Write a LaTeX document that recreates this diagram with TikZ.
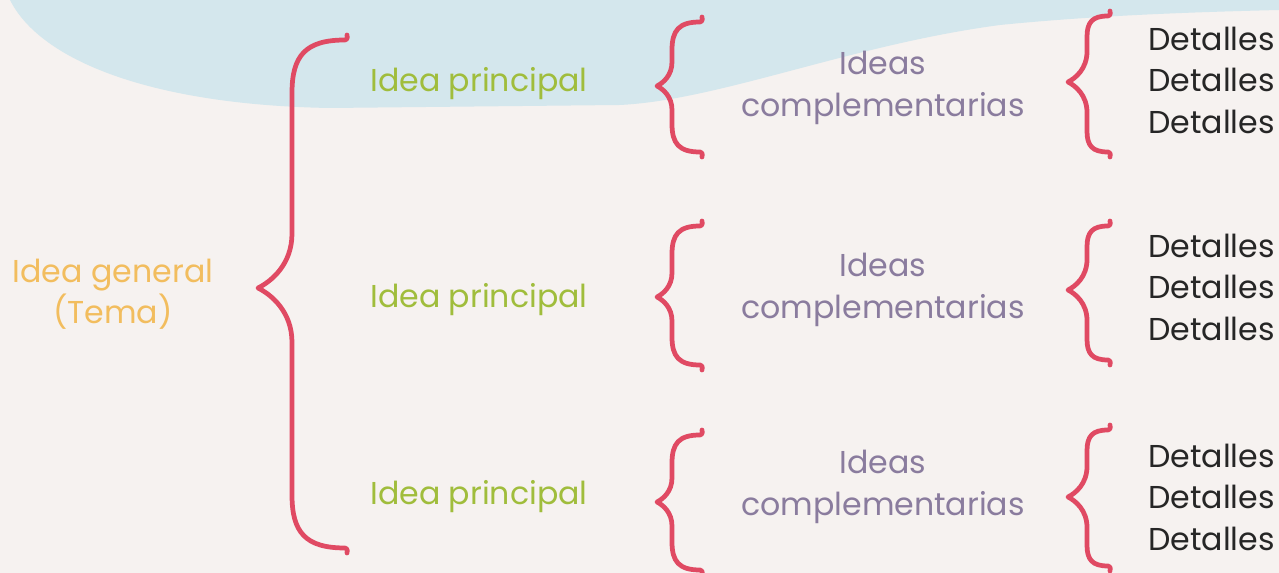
\documentclass[tikz,border=0pt]{standalone}
\usepackage{fontspec}
\setmainfont{Poppins}
\usetikzlibrary{positioning}
\definecolor{papel}{HTML}{F6F2F0}
\definecolor{cielo}{HTML}{D4E7ED}
\definecolor{rojollave}{HTML}{E04A63}
\definecolor{tema}{HTML}{F2BD5E}
\definecolor{principal}{HTML}{A0BD3C}
\definecolor{complementaria}{HTML}{8A7C9E}
\definecolor{detalle}{HTML}{262626}
% llave: x extremos, x tramo recto, x punta, y arriba, y punta, y abajo
\newcommand{\llave}[6]{%
	\draw[llave] ({#1+2},{#4-5}) .. controls ({#1+3},{#4-1}) and ({#1+1},#4) .. (#1,#4)
	.. controls ({#2+0.25*(#1-#2)},#4) and (#2,{#4+0.3*(#1-#2)}) .. (#2,{#4+(#1-#2)})
	-- (#2,{#5-1.6*(#2-#3)}) .. controls (#2,{#5-0.7*(#2-#3)}) and ({#3+0.4*(#2-#3)},{#5-0.2*(#2-#3)}) .. (#3,#5)
	.. controls ({#3+0.4*(#2-#3)},{#5+0.2*(#2-#3)}) and (#2,{#5+0.7*(#2-#3)}) .. (#2,{#5+1.6*(#2-#3)})
	-- (#2,{#6-(#1-#2)}) .. controls (#2,{#6-0.3*(#1-#2)}) and ({#2+0.25*(#1-#2)},#6) .. (#1,#6)
	.. controls ({#1+1},#6) and ({#1+3},{#6+1}) .. ({#1+2},{#6+5});}

\begin{document}
\begin{tikzpicture}[x=0.02cm, y=-0.02cm, line cap=round, line join=round,
	llave/.style={rojollave, line width=2.7pt},
	texto/.style={inner sep=0pt, font=\fontsize{18}{23.6}\selectfont}]

%========================
% fondo de la pagina
%========================
\useasboundingbox (0,0) rectangle (1279,573);
\fill[papel] (0,0) rectangle (1279,573);
\fill[cielo] (10,0) .. controls (40,60) and (150,105) .. (330,108) -- (620,105)
	.. controls (720,100) and (850,45) .. (1000,25) .. controls (1100,15) and (1200,12) .. (1279,10)
	-- (1279,0) -- cycle;

%========================
% idea general
%========================
\node[texto, tema, align=center] (general) at (113,294) {Idea general\\(Tema)};
\llave{345}{292}{258}{40}{288}{548}

%========================
% ideas principales
%========================
\node[texto, principal] (principal1) at (479,84) {Idea principal};
\node[texto, principal] (principal2) at (479,300) {Idea principal};
\node[texto, principal] (principal3) at (479,497) {Idea principal};

% llaves de las ideas complementarias
\llave{700}{672}{657}{22}{86}{152}
\llave{700}{672}{657}{226}{297}{365}
\llave{700}{672}{657}{435}{502}{570}

\node[texto, complementaria, align=center] (complem1) at (883,88) {Ideas\\complementarias};
\node[texto, complementaria, align=center] (complem2) at (883,290) {Ideas\\complementarias};
\node[texto, complementaria, align=center] (complem3) at (883,487) {Ideas\\complementarias};

% llaves de los detalles
\llave{1108}{1087}{1068}{16}{82}{152}
\llave{1108}{1087}{1068}{226}{290}{360}
\llave{1108}{1087}{1068}{430}{497}{566}

\node[texto, detalle, align=left, anchor=west] (detalles1) at (1148,80) {Detalles\\Detalles\\Detalles};
\node[texto, detalle, align=left, anchor=west] (detalles2) at (1148,287) {Detalles\\Detalles\\Detalles};
\node[texto, detalle, align=left, anchor=west] (detalles3) at (1148,497) {Detalles\\Detalles\\Detalles};

\end{tikzpicture}
\end{document}
